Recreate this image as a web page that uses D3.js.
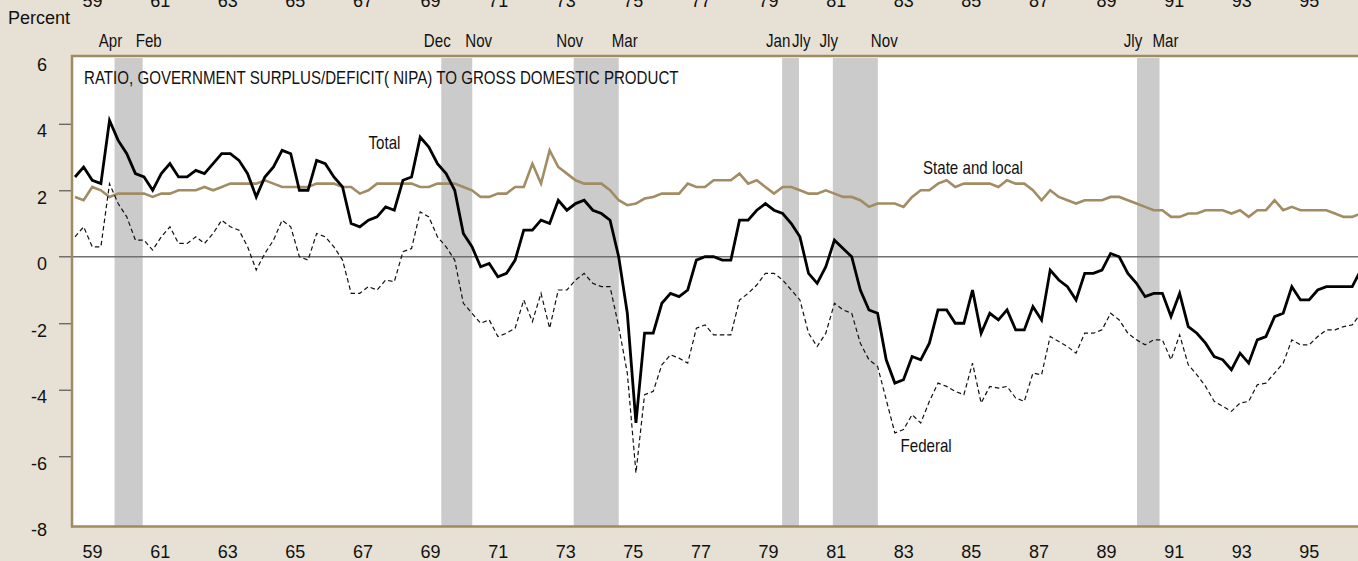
<!DOCTYPE html>
<html>
<head>
<meta charset="utf-8">
<script src="https://cdn.jsdelivr.net/npm/d3@7"></script>
<style>
  body { margin: 0; background: #e7e1d5; }
  svg { display: block; }
  text { font-family: "Liberation Sans", Arial, sans-serif; fill: #111; }
</style>
</head>
<body>
<div id="chart"></div>
<script>
// Ratio of government surplus/deficit (NIPA) to GDP, percent
// quarterly values from 1959 Q1

var total = [
    2.4, 2.7, 2.3, 2.2, 4.1, 3.5, 3.1, 2.5, 2.4, 2.0,
    2.5, 2.8, 2.4, 2.4, 2.6, 2.5, 2.8, 3.1, 3.1, 2.9,
    2.5, 1.8, 2.4, 2.7, 3.2, 3.1, 2.0, 2.0, 2.9, 2.8,
    2.4, 2.1, 1.0, 0.9, 1.1, 1.2, 1.5, 1.4, 2.3, 2.4,
    3.6, 3.3, 2.8, 2.5, 2.0, 0.7, 0.3, -0.3, -0.2, -0.6,
    -0.5, -0.1, 0.8, 0.8, 1.1, 1.0, 1.7, 1.4, 1.6, 1.7,
    1.4, 1.3, 1.1, 0.0, -1.7, -5.0, -2.3, -2.3, -1.4, -1.1,
    -1.2, -1.0, -0.1, 0.0, 0.0, -0.1, -0.1, 1.1, 1.1, 1.4,
    1.6, 1.4, 1.3, 1.0, 0.6, -0.5, -0.8, -0.3, 0.5, 0.25,
    0.0, -1.0, -1.6, -1.7, -3.1, -3.8, -3.7, -3.0, -3.1, -2.6,
    -1.6, -1.6, -2.0, -2.0, -1.0, -2.3, -1.7, -1.9, -1.6, -2.2,
    -2.2, -1.5, -1.9, -0.4, -0.7, -0.9, -1.3, -0.5, -0.5, -0.4,
    0.1, 0.0, -0.5, -0.8, -1.2, -1.1, -1.1, -1.8, -1.1, -2.1,
    -2.3, -2.6, -3.0, -3.1, -3.4, -2.9, -3.2, -2.5, -2.4, -1.8,
    -1.7, -0.9, -1.3, -1.3, -1.0, -0.9, -0.9, -0.9, -0.9, -0.4
];

var stateLocal = [
    1.8, 1.7, 2.1, 2.0, 1.8, 1.9, 1.9, 1.9, 1.9, 1.8,
    1.9, 1.9, 2.0, 2.0, 2.0, 2.1, 2.0, 2.1, 2.2, 2.2,
    2.2, 2.2, 2.3, 2.2, 2.1, 2.1, 2.1, 2.1, 2.2, 2.2,
    2.2, 2.1, 2.1, 1.9, 2.0, 2.2, 2.2, 2.2, 2.2, 2.2,
    2.1, 2.1, 2.2, 2.2, 2.2, 2.1, 2.0, 1.8, 1.8, 1.9,
    1.9, 2.1, 2.1, 2.8, 2.2, 3.2, 2.7, 2.5, 2.3, 2.2,
    2.2, 2.2, 2.0, 1.7, 1.55, 1.6, 1.75, 1.8, 1.9, 1.9,
    1.9, 2.2, 2.1, 2.1, 2.3, 2.3, 2.3, 2.5, 2.2, 2.3,
    2.1, 1.9, 2.1, 2.1, 2.0, 1.9, 1.9, 2.0, 1.9, 1.8,
    1.8, 1.7, 1.5, 1.6, 1.6, 1.6, 1.5, 1.8, 2.0, 2.0,
    2.2, 2.3, 2.1, 2.2, 2.2, 2.2, 2.2, 2.1, 2.3, 2.2,
    2.2, 2.0, 1.7, 2.0, 1.8, 1.7, 1.6, 1.7, 1.7, 1.7,
    1.8, 1.8, 1.7, 1.6, 1.5, 1.4, 1.4, 1.2, 1.2, 1.3,
    1.3, 1.4, 1.4, 1.4, 1.3, 1.4, 1.2, 1.4, 1.4, 1.7,
    1.4, 1.5, 1.4, 1.4, 1.4, 1.4, 1.3, 1.2, 1.2, 1.3
];

var federal = [
    0.6, 0.9, 0.3, 0.3, 2.2, 1.6, 1.2, 0.5, 0.5, 0.2,
    0.6, 0.9, 0.4, 0.4, 0.6, 0.4, 0.7, 1.1, 0.9, 0.8,
    0.3, -0.4, 0.1, 0.5, 1.1, 0.9, 0.0, -0.1, 0.7, 0.6,
    0.3, -0.1, -1.1, -1.1, -0.9, -1.0, -0.7, -0.75, 0.15, 0.25,
    1.35, 1.2, 0.6, 0.3, -0.1, -1.4, -1.7, -2.0, -1.9, -2.4,
    -2.3, -2.15, -1.3, -1.95, -1.1, -2.15, -1.0, -1.0, -0.7, -0.5,
    -0.8, -0.9, -0.9, -2.1, -3.5, -6.5, -4.15, -4.05, -3.25, -2.95,
    -3.05, -3.2, -2.15, -2.05, -2.35, -2.35, -2.35, -1.3, -1.1, -0.85,
    -0.5, -0.5, -0.7, -1.0, -1.3, -2.3, -2.7, -2.3, -1.4, -1.6,
    -1.7, -2.6, -3.1, -3.3, -4.3, -5.3, -5.2, -4.75, -5.0, -4.35,
    -3.8, -3.9, -4.05, -4.15, -3.2, -4.4, -3.9, -3.95, -3.9, -4.25,
    -4.35, -3.5, -3.55, -2.4, -2.55, -2.7, -2.9, -2.3, -2.3, -2.2,
    -1.7, -1.9, -2.3, -2.5, -2.65, -2.5, -2.5, -3.1, -2.35, -3.25,
    -3.55, -3.9, -4.35, -4.5, -4.65, -4.4, -4.35, -3.85, -3.8, -3.5,
    -3.2, -2.5, -2.65, -2.65, -2.4, -2.2, -2.2, -2.1, -2.05, -1.7
];

var yearTicks = [1959, 1961, 1963, 1965, 1967, 1969, 1971, 1973, 1975, 1977,
                 1979, 1981, 1983, 1985, 1987, 1989, 1991, 1993, 1995];
var yTicks = [6, 4, 2, 0, -2, -4, -6, -8];

// recessions: [year, month]
var recStart = [[1960, 4], [1969, 12], [1973, 11], [1980, 1], [1981, 7], [1990, 7]];
var recEnd = [[1961, 2], [1970, 11], [1975, 3], [1980, 7], [1982, 11], [1991, 3]];
var monthNames = ["Jan", "Feb", "Mar", "Apr", "May", "June", "Jly", "Aug", "Sept", "Oct", "Nov", "Dec"];

var W = 1358, H = 561;
var plotLeft = 72, plotTop = 56, plotBottom = 526.5;
var narrow = 0.84; // condensed lettering of the labels

var svg = d3.select("#chart").append("svg")
    .attr("width", W)
    .attr("height", H);

svg.append("rect").attr("width", W).attr("height", H).attr("fill", "#e7e1d5");
svg.append("rect")
    .attr("x", plotLeft).attr("y", plotTop)
    .attr("width", W - plotLeft + 20).attr("height", plotBottom - plotTop)
    .attr("fill", "#ffffff");

// calendar scale (year labels, recession bands)
var x = d3.scaleLinear().domain([1959, 1997]).range([72.3, 1356.7]);
// series scale, by quarter index
var xq = d3.scaleLinear().domain([0, total.length - 1]).range([75, 75 + 8.63 * (total.length - 1)]);
var y = d3.scaleLinear().domain([-8, 6]).range([522.7, 57.3]);

function ym(d) { return d[0] + (d[1] - 1) / 12; }

// condensed text placed at (tx, ty)
function narrowText(sel, tx, ty, anchor, str) {
    return sel.append("text")
        .attr("transform", "translate(" + tx + "," + ty + ") scale(" + narrow + ",1)")
        .attr("text-anchor", anchor)
        .attr("font-size", 18)
        .text(str);
}

// recession shading
svg.append("g").selectAll("rect")
    .data(recStart)
    .join("rect")
    .attr("x", function (d) { return x(ym(d)); })
    .attr("y", 58)
    .attr("width", function (d, i) { return x(ym(recEnd[i])) - x(ym(d)); })
    .attr("height", plotBottom - 58)
    .attr("fill", "#cbcbcb");

// recession month labels
var lab = svg.append("g");
recStart.forEach(function (d) {
    narrowText(lab, x(ym(d)) - 4, 46.5, "middle", monthNames[d[1] - 1]);
});
recEnd.forEach(function (d) {
    narrowText(lab, x(ym(d)) - 7, 46.5, "start", monthNames[d[1] - 1]);
});

// zero line
svg.append("line")
    .attr("x1", 59).attr("x2", W)
    .attr("y1", y(0)).attr("y2", y(0))
    .attr("stroke", "#707070")
    .attr("stroke-width", 1.5);

// y axis
var yAxis = svg.append("g")
    .attr("transform", "translate(" + plotLeft + ",0)")
    .call(d3.axisLeft(y).tickValues(yTicks).tickSize(13).tickPadding(12)
        .tickFormat(function (d) { return String(d); }));
yAxis.select(".domain").remove();
yAxis.attr("font-family", null).attr("font-size", 18);
yAxis.selectAll(".tick line")
    .attr("stroke", "#555")
    .attr("stroke-width", 1.2)
    .filter(function (d) { return d === 6 || d === -8 || d === 0; })
    .remove();
yAxis.selectAll(".tick text").attr("dy", "0.72em").attr("fill", "#111");

// year labels, top and bottom
[7, 558].forEach(function (ty) {
    svg.append("g").selectAll("text")
        .data(yearTicks)
        .join("text")
        .attr("x", function (d) { return x(d + 0.6); })
        .attr("y", ty)
        .attr("text-anchor", "middle")
        .attr("font-size", 18)
        .text(function (d) { return String(d).slice(2); });
});

svg.append("text")
    .attr("x", 8).attr("y", 24)
    .attr("font-size", 18)
    .text("Percent");

// lines
svg.append("clipPath").attr("id", "clip")
    .append("rect")
    .attr("x", plotLeft + 1).attr("y", plotTop + 1)
    .attr("width", W).attr("height", plotBottom - plotTop - 2);

var line = d3.line()
    .x(function (d, i) { return xq(i); })
    .y(function (d) { return y(d); });

var g = svg.append("g").attr("clip-path", "url(#clip)");

g.append("path")
    .datum(stateLocal)
    .attr("d", line)
    .attr("fill", "none")
    .attr("stroke", "#a28c64")
    .attr("stroke-width", 2.6);

g.append("path")
    .datum(federal)
    .attr("d", line)
    .attr("fill", "none")
    .attr("stroke", "#111")
    .attr("stroke-width", 1.2)
    .attr("stroke-dasharray", "4.5,3");

g.append("path")
    .datum(total)
    .attr("d", line)
    .attr("fill", "none")
    .attr("stroke", "#000")
    .attr("stroke-width", 2.8)
    .attr("stroke-linejoin", "miter");

// frame
var frame = "#a08a60";
svg.append("line").attr("x1", plotLeft).attr("x2", plotLeft)
    .attr("y1", plotTop - 1).attr("y2", plotBottom + 1)
    .attr("stroke", frame).attr("stroke-width", 2.5);
svg.append("line").attr("x1", plotLeft - 1).attr("x2", W)
    .attr("y1", plotTop).attr("y2", plotTop)
    .attr("stroke", frame).attr("stroke-width", 2.5);
svg.append("line").attr("x1", plotLeft - 1).attr("x2", W)
    .attr("y1", plotBottom).attr("y2", plotBottom)
    .attr("stroke", frame).attr("stroke-width", 2.5);

// annotations
var ann = svg.append("g");
narrowText(ann, 84, 84.3, "start", "RATIO, GOVERNMENT SURPLUS/DEFICIT( NIPA) TO GROSS DOMESTIC PRODUCT");
narrowText(ann, 368.5, 149.3, "start", "Total");
narrowText(ann, 923, 174.3, "start", "State and local");
narrowText(ann, 900.5, 451.7, "start", "Federal");
</script>
</body>
</html>
